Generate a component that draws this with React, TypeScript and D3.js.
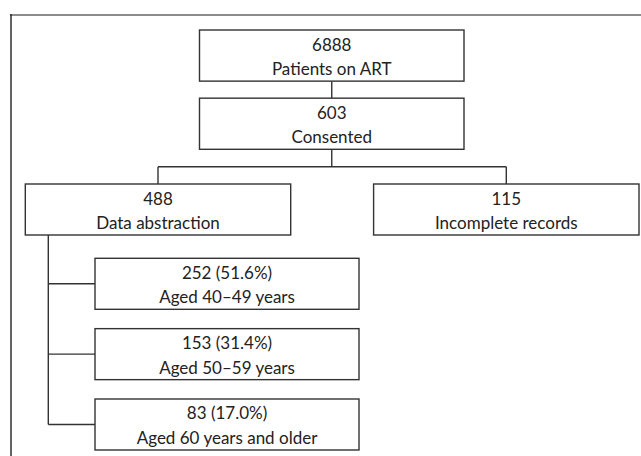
import * as d3 from "d3";

// flowchart data
const mainCounts = [6888, 603];
const mainLabels = ["Patients on ART", "Consented"];
const splitCounts = [488, 115];
const splitLabels = ["Data abstraction", "Incomplete records"];
const ageCounts = [252, 153, 83];
const agePercents = ["51.6%", "31.4%", "17.0%"];
const ageLabels = ["Aged 40–49 years", "Aged 50–59 years", "Aged 60 years and older"];

const width = 641;
const height = 456;
const stroke = "#333";
const font = "Lato, 'Open Sans', sans-serif";

function Box({ x, y, w, h, line1, line2 }: { x: number; y: number; w: number; h: number; line1: string; line2: string }) {
  return (
    <g>
      <rect x={x} y={y} width={w} height={h} fill="#fff" stroke={stroke} strokeWidth={1.4} />
      <text x={x + w / 2} y={y + 14} textAnchor="middle" dominantBaseline="central" fontSize={17} fill="#222">
        {line1}
      </text>
      <text x={x + w / 2} y={y + 38.5} textAnchor="middle" dominantBaseline="central" fontSize={17} fill="#222">
        {line2}
      </text>
    </g>
  );
}

export default function App() {
  // main column
  const mainY = d3.scaleBand<string>().domain(mainLabels).range([30, 149.3]).paddingInner(0.25);
  const mainX0 = 199.5;
  const mainW = 264.5;
  const mainCx = mainX0 + mainW / 2;

  // split row
  const splitX = d3.scaleBand<string>().domain(splitLabels).range([25.3, 639]).paddingInner(0.238);
  const splitTop = 184;
  const splitH = 51;
  const branchY = 166.7;

  // age sub-boxes
  const ageY = d3.scaleBand<string>().domain(ageLabels).range([258.3, 450]).paddingInner(0.275);
  const ageX0 = 95;
  const ageW = 264;
  const spineX = 48.3;

  const bh = mainY.bandwidth();
  const m0 = mainY(mainLabels[0])!;
  const m1 = mainY(mainLabels[1])!;
  const splitCenters = splitLabels.map((l) => splitX(l)! + splitX.bandwidth() / 2);
  const ageCenters = ageLabels.map((l) => ageY(l)! + ageY.bandwidth() / 2);

  return (
    <svg width={width} height={height} style={{ position: "absolute", left: 0, top: 0 }} fontFamily={font}>
      <rect width={width} height={height} fill="#fff" />
      {/* outer frame */}
      <line x1={10} x2={width} y1={15} y2={15} stroke="#8c8c8c" strokeWidth={2} />
      <line x1={11} x2={11} y1={14} y2={height} stroke="#222" strokeWidth={1.4} />

      {/* connectors */}
      <g stroke={stroke} strokeWidth={1.4} fill="none">
        <line x1={mainCx} x2={mainCx} y1={m0 + bh} y2={m1} />
        <line x1={mainCx} x2={mainCx} y1={m1 + bh} y2={branchY} />
        <line x1={splitCenters[0]} x2={splitCenters[1]} y1={branchY} y2={branchY} />
        {splitCenters.map((c, i) => (
          <line key={i} x1={c} x2={c} y1={branchY} y2={splitTop} />
        ))}
        <line x1={spineX} x2={spineX} y1={splitTop + splitH} y2={ageCenters[ageCenters.length - 1]} />
        {ageCenters.map((c, i) => (
          <line key={i} x1={spineX} x2={ageX0} y1={c} y2={c} />
        ))}
      </g>

      {mainLabels.map((l, i) => (
        <Box key={l} x={mainX0} y={mainY(l)!} w={mainW} h={bh} line1={String(mainCounts[i])} line2={l} />
      ))}
      {splitLabels.map((l, i) => (
        <Box key={l} x={splitX(l)!} y={splitTop} w={splitX.bandwidth()} h={splitH} line1={String(splitCounts[i])} line2={l} />
      ))}
      {ageLabels.map((l, i) => (
        <Box
          key={l}
          x={ageX0}
          y={ageY(l)!}
          w={ageW}
          h={ageY.bandwidth()}
          line1={`${ageCounts[i]} (${agePercents[i]})`}
          line2={l}
        />
      ))}
    </svg>
  );
}
